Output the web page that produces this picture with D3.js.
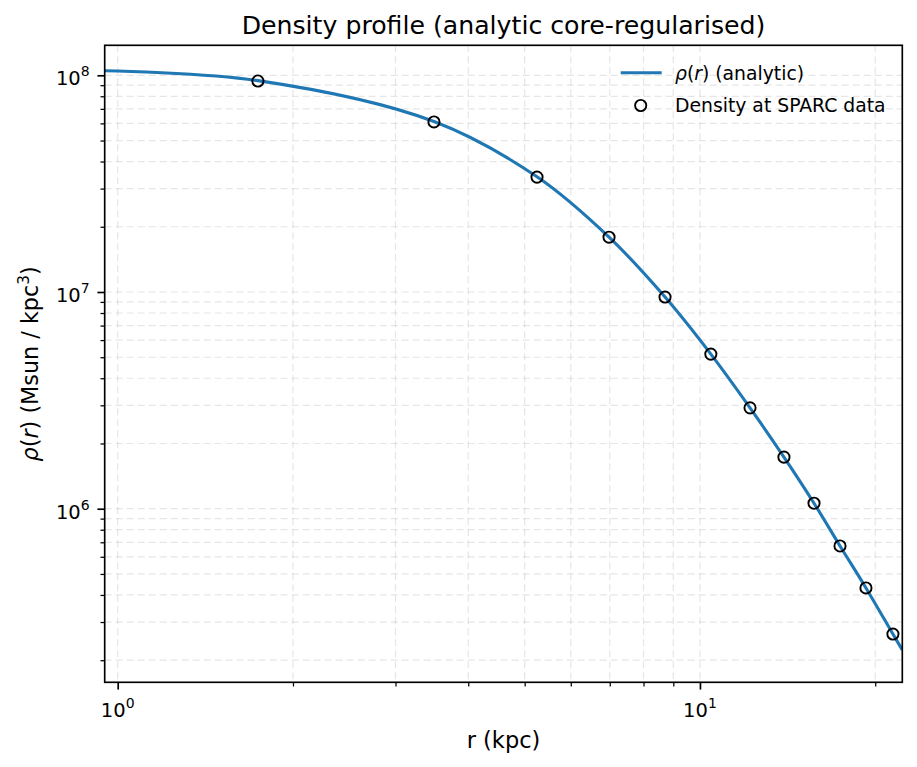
<!DOCTYPE html>
<html><head><meta charset="utf-8">
<script src="https://cdn.jsdelivr.net/npm/d3@7"></script>
<style>
body{margin:0;background:#fff}
text{font-family:"DejaVu Sans",sans-serif;fill:#000}
</style>
</head><body>
<svg id="chart" width="917" height="767"></svg>
<script>
// ---- data ----
const sparcRadius  = [1.741, 3.493, 5.25, 6.98, 8.71, 10.44, 12.19, 13.94, 15.70, 17.40, 19.28, 21.45];
const sparcDensity = [9.41e7, 6.09e7, 3.39e7, 1.79e7, 9.48e6, 5.17e6, 2.92e6, 1.73e6, 1.06e6, 6.73e5, 4.31e5, 2.64e5];
const curveRadius  = [0.95, 1.741, 3.493, 5.25, 6.98, 8.71, 10.44, 12.19, 13.94, 15.70, 17.40, 19.28, 21.45, 22.26];
const curveDensity = [1.05e8, 9.45e7, 6.12e7, 3.40e7, 1.79e7, 9.48e6, 5.17e6, 2.92e6, 1.73e6, 1.06e6, 6.73e5, 4.31e5, 2.64e5, 2.23e5];
const xDomain = [0.9499, 22.26];
const yDomain = [Math.pow(10, 5.199), Math.pow(10, 8.1384)];
const xMajorTicks = [1, 10];
const xMajorLabels = ["0", "1"];
const yMajorTicks = [1e6, 1e7, 1e8];
const yMajorLabels = ["6", "7", "8"];
const titleText = "Density profile (analytic core-regularised)";
const legendLabels = ["(analytic)", "Density at SPARC data"];

// ---- layout ----
const L = 104.7, R = 902.3, T = 45.3, B = 682.3;
const svg = d3.select("#chart");
const x = d3.scaleLog().domain(xDomain).range([L, R]);
const y = d3.scaleLog().domain(yDomain).range([B, T]);
const blue = "#1f77b4";

svg.append("rect").attr("width", 917).attr("height", 767).attr("fill", "#fff");

svg.append("defs").append("clipPath").attr("id", "clip")
  .append("rect").attr("x", L).attr("y", T).attr("width", R - L).attr("height", B - T);

// grid (major + minor)
const xGridVals = x.ticks();
const yGridVals = y.ticks();
const grid = svg.append("g").attr("stroke", "#b0b0b0").attr("stroke-opacity", 0.32)
  .attr("stroke-width", 1.2).attr("stroke-dasharray", "7,4");
grid.selectAll("line.vx").data(xGridVals).join("line")
  .attr("x1", d => x(d)).attr("x2", d => x(d)).attr("y1", T).attr("y2", B);
grid.selectAll("line.hy").data(yGridVals).join("line")
  .attr("y1", d => y(d)).attr("y2", d => y(d)).attr("x1", L).attr("x2", R);

// curve
const line = d3.line().x((d, i) => x(curveRadius[i])).y((d, i) => y(curveDensity[i]))
  .curve(d3.curveCatmullRom.alpha(0.5));
svg.append("path").attr("clip-path", "url(#clip)")
  .attr("d", line(curveRadius))
  .attr("fill", "none").attr("stroke", blue).attr("stroke-width", 3.1);

// points
svg.append("g").selectAll("circle").data(sparcRadius).join("circle")
  .attr("cx", d => x(d)).attr("cy", (d, i) => y(sparcDensity[i])).attr("r", 5.6)
  .attr("fill", "none").attr("stroke", "#000").attr("stroke-width", 1.9);

// axes ticks
const minorX = xGridVals.filter(v => !xMajorTicks.includes(v));
const minorY = yGridVals.filter(v => !yMajorTicks.some(m => Math.abs(m - v) / m < 1e-9));
function styleAxis(g, w) {
  g.select(".domain").remove();
  g.selectAll(".tick line").attr("stroke", "#000").attr("stroke-width", w);
  g.selectAll(".tick text").remove();
}
svg.append("g").attr("transform", `translate(0,${B})`)
  .call(d3.axisBottom(x).tickValues(xMajorTicks).tickSize(7.3).tickFormat(""))
  .call(g => styleAxis(g, 1.67));
svg.append("g").attr("transform", `translate(0,${B})`)
  .call(d3.axisBottom(x).tickValues(minorX).tickSize(4.2).tickFormat(""))
  .call(g => styleAxis(g, 1.25));
svg.append("g").attr("transform", `translate(${L},0)`)
  .call(d3.axisLeft(y).tickValues(yMajorTicks).tickSize(7.3).tickFormat(""))
  .call(g => styleAxis(g, 1.67));
svg.append("g").attr("transform", `translate(${L},0)`)
  .call(d3.axisLeft(y).tickValues(minorY).tickSize(4.2).tickFormat(""))
  .call(g => styleAxis(g, 1.25));

// tick labels
const tickFs = 19.5;
xMajorTicks.forEach((v, i) => {
  const t = svg.append("text").attr("x", x(v)).attr("y", B + 35).attr("text-anchor", "middle")
    .attr("font-size", tickFs);
  t.append("tspan").text("10");
  t.append("tspan").attr("font-size", 14).attr("dy", -9).text(xMajorLabels[i]);
});
yMajorTicks.forEach((v, i) => {
  const t = svg.append("text").attr("x", L - 15).attr("y", y(v) + 9.9).attr("text-anchor", "end")
    .attr("font-size", tickFs);
  t.append("tspan").text("10");
  t.append("tspan").attr("font-size", 14).attr("dy", -9).text(yMajorLabels[i]);
});

// frame
svg.append("rect").attr("x", L).attr("y", T).attr("width", R - L).attr("height", B - T)
  .attr("fill", "none").attr("stroke", "#000").attr("stroke-width", 1.67);

// title & labels
svg.append("text").attr("x", (L + R) / 2).attr("y", 34).attr("text-anchor", "middle")
  .attr("font-size", 25.2).text(titleText);
svg.append("text").attr("x", (L + R) / 2).attr("y", 748).attr("text-anchor", "middle")
  .attr("font-size", 22.5).text("r (kpc)");
const yl = svg.append("text").attr("transform", `translate(38,${(T + B) / 2}) rotate(-90)`)
  .attr("text-anchor", "middle").attr("font-size", 22.3);
yl.append("tspan").attr("font-style", "italic").text("ρ");
yl.append("tspan").text("(");
yl.append("tspan").attr("font-style", "italic").text("r");
yl.append("tspan").text(") (Msun / kpc");
yl.append("tspan").attr("font-size", 15.5).attr("dy", -9).text("3");
yl.append("tspan").attr("dy", 9).text(")");

// legend
const lg = svg.append("g");
lg.append("line").attr("x1", 620.7).attr("x2", 661.7).attr("y1", 72.7).attr("y2", 72.7)
  .attr("stroke", blue).attr("stroke-width", 3.1);
const lt = lg.append("text").attr("x", 675).attr("y", 79.5).attr("font-size", 18.8);
lt.append("tspan").attr("font-style", "italic").text("ρ");
lt.append("tspan").text("(");
lt.append("tspan").attr("font-style", "italic").text("r");
lt.append("tspan").text(") " + legendLabels[0]);
lg.append("circle").attr("cx", 640.7).attr("cy", 105.5).attr("r", 5.6)
  .attr("fill", "none").attr("stroke", "#000").attr("stroke-width", 1.9);
lg.append("text").attr("x", 675).attr("y", 111.5).attr("font-size", 18.8).text(legendLabels[1]);
</script>
</body></html>
